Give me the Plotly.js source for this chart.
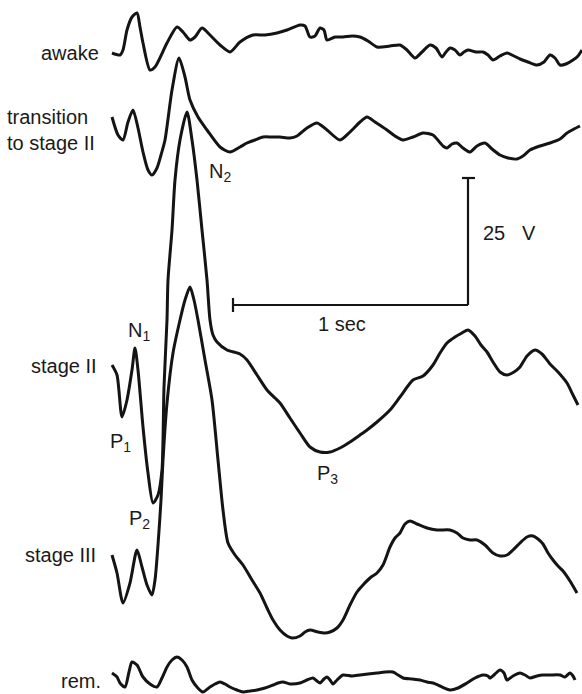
<!DOCTYPE html>
<html>
<head>
<meta charset="utf-8">
<script src="https://cdn.plot.ly/plotly-3.0.1.min.js"></script>
<style>
  html, body { margin: 0; padding: 0; background: #fff; }
  #chart { width: 582px; height: 694px; }
</style>
</head>
<body>
<div id="chart"></div>
<script>
// EEG traces in sleep stages, sampled along the sweep (x = time on page scale, y = deflection, downward positive)
const awakeX = [112,120,123,127,132,137,140,143,150,155,167,177,183,190,195,202,210,220,230,240,253,265,277,287,300,305,310,315,320,324,327,335,343,352,360,368,377,390,400,407,415,422,430,436,442,446,450,455,460,464,468,476,483,488,493,500,507,514,520,528,537,544,550,555,560,566,573,578,582];
const awakeY = [53,55,50,30,17,13,27,43,70,67,43,27,32,40,37,28,35,45,52,42,35,35,33,30,25,26,37,36,28,30,40,37,37,36,37,41,47,46,45,50,58,52,45,48,57,52,48,50,55,52,50,52,52,55,60,56,53,56,59,62,65,62,55,58,65,64,60,56,50];

const transX = [112,118,123,128,133,138,143,148,152,157,161,165,172,179,185,190,198,207,220,230,240,247,255,263,272,280,290,297,307,317,327,340,350,360,367,375,387,395,403,413,423,433,443,447,452,457,463,470,477,485,492,500,508,517,523,530,540,550,560,567,574,580];
const transY = [117,135,140,122,110,128,152,170,175,168,155,140,90,58,77,100,117,130,147,152,147,143,140,137,137,137,138,136,128,123,130,140,132,122,117,122,130,136,140,137,133,135,146,148,144,143,148,152,146,143,149,155,158,159,156,150,146,143,139,133,129,126];

const stage2X = [112,117,122,127,132,135,138,143,148,153,158,162,163,164,167,168,172,175,180,187,192,197,202,207,210,213,217,227,240,247,257,267,275,280,290,300,310,320,330,340,350,360,367,377,390,400,413,423,433,440,447,455,462,468,475,481,487,493,500,507,514,520,527,535,542,550,558,567,573,578];
const stage2Y = [365,375,417,400,370,348,370,427,473,503,495,470,440,387,320,280,230,180,140,112,140,180,230,280,320,335,342,350,354,360,375,390,398,403,418,433,447,452,452,448,442,435,430,422,410,397,380,376,365,353,343,337,333,330,336,345,352,362,372,375,372,367,356,350,354,364,372,383,395,405];

const stage3X = [112,117,123,130,137,142,147,152,155,158,161,163,167,173,180,185,190,194,198,205,212,218,223,228,235,243,252,260,267,273,280,287,292,300,305,310,318,325,330,337,343,350,357,363,370,377,383,390,395,400,405,410,417,427,437,450,457,463,470,477,485,493,500,507,513,520,527,533,538,543,548,553,558,563,570,577];
const stage3Y = [555,573,603,583,550,567,585,595,580,545,500,460,403,353,320,300,287,300,320,360,400,460,510,543,555,565,580,593,608,620,630,636,638,636,632,630,632,633,632,628,620,605,592,585,578,573,565,547,538,533,524,521,524,528,530,530,533,538,540,540,545,553,556,555,550,543,537,536,539,544,553,560,566,571,581,593];

const remX = [112,117,120,125,129,132,137,143,150,157,162,167,172,177,182,187,192,197,203,210,215,220,225,230,237,243,250,257,265,273,278,283,290,300,307,313,317,320,324,327,330,333,337,343,352,360,368,377,385,393,398,403,412,420,427,433,440,450,458,467,475,483,488,490,495,500,504,507,513,520,525,530,537,543,550,560,565,570,573,575];
const remY = [673,677,683,687,672,662,665,677,684,687,678,667,660,657,660,667,680,687,692,687,684,682,684,687,690,692,691,690,688,685,683,682,684,683,680,678,681,683,679,677,680,684,680,675,676,675,674,673,672,672,675,678,679,680,682,683,686,690,688,683,678,675,676,678,674,670,673,680,676,673,675,678,676,675,675,675,677,673,676,680];

// Row labels, placed beside the start of each sweep
const rowLabels = ['awake', 'transition<br>to stage II', 'stage II', 'stage III', 'rem.'];
const rowLabelY = [53, 130, 366, 555, 681];
const rowLabelX = [101, 5, 99, 98, 103];
const rowLabelAnchor = ['right', 'left', 'right', 'right', 'right'];

// Component markers
const peakNames = ['N<sub>1</sub>', 'P<sub>1</sub>', 'P<sub>2</sub>', 'N<sub>2</sub>', 'P<sub>3</sub>'];
const peakX = [139, 120, 139, 220, 327];
const peakY = [331, 442, 519, 172, 474];

// Calibration bar: 1 sec horizontal, 25 µV vertical
const calLeft = 233, calRight = 468, calBase = 305, calTop = 178;

const ink = '#141414';
const txt = { family: 'Liberation Sans, Arial, sans-serif', size: 20, color: '#1a1a1a' };
const lineStyle = { color: ink, width: 3, shape: 'spline', smoothing: 0.7 };

const sweeps = [
  [awakeX, awakeY], [transX, transY], [stage2X, stage2Y], [stage3X, stage3Y], [remX, remY]
];
const traces = sweeps.map(([x, y]) => ({
  x: x, y: y, type: 'scatter', mode: 'lines', line: lineStyle, hoverinfo: 'skip'
}));

const annotations = [];
rowLabels.forEach((t, i) => annotations.push({
  x: rowLabelX[i], y: rowLabelY[i], xref: 'x', yref: 'y', text: t, showarrow: false,
  xanchor: rowLabelAnchor[i], yanchor: 'middle', align: 'left', font: txt
}));
peakNames.forEach((t, i) => annotations.push({
  x: peakX[i], y: peakY[i], xref: 'x', yref: 'y', text: t, showarrow: false,
  xanchor: 'center', yanchor: 'middle', font: txt
}));
annotations.push({
  x: 481, y: 233, xref: 'x', yref: 'y', text: '25\u00a0\u00a0\u00a0V', showarrow: false,
  xanchor: 'left', yanchor: 'middle', font: txt
});
annotations.push({
  x: 342, y: 324, xref: 'x', yref: 'y', text: '1 sec', showarrow: false,
  xanchor: 'center', yanchor: 'middle', font: txt
});

const barLine = { color: ink, width: 2.2 };
const shapes = [
  { type: 'line', xref: 'x', yref: 'y', x0: calLeft, x1: calRight, y0: calBase, y1: calBase, line: barLine },
  { type: 'line', xref: 'x', yref: 'y', x0: calLeft, x1: calLeft, y0: calBase - 7, y1: calBase + 7, line: barLine },
  { type: 'line', xref: 'x', yref: 'y', x0: calRight, x1: calRight, y0: calBase, y1: calTop, line: barLine },
  { type: 'line', xref: 'x', yref: 'y', x0: calRight - 6, x1: calRight + 7, y0: calTop, y1: calTop, line: barLine }
];

const layout = {
  width: 582, height: 694,
  margin: { l: 0, r: 0, t: 0, b: 0 },
  paper_bgcolor: '#ffffff', plot_bgcolor: '#ffffff',
  showlegend: false,
  xaxis: { range: [0, 582], visible: false, fixedrange: true },
  yaxis: { range: [694, 0], visible: false, fixedrange: true },
  annotations: annotations,
  shapes: shapes
};

Plotly.newPlot('chart', traces, layout, { displayModeBar: false, staticPlot: true });
</script>
</body>
</html>
